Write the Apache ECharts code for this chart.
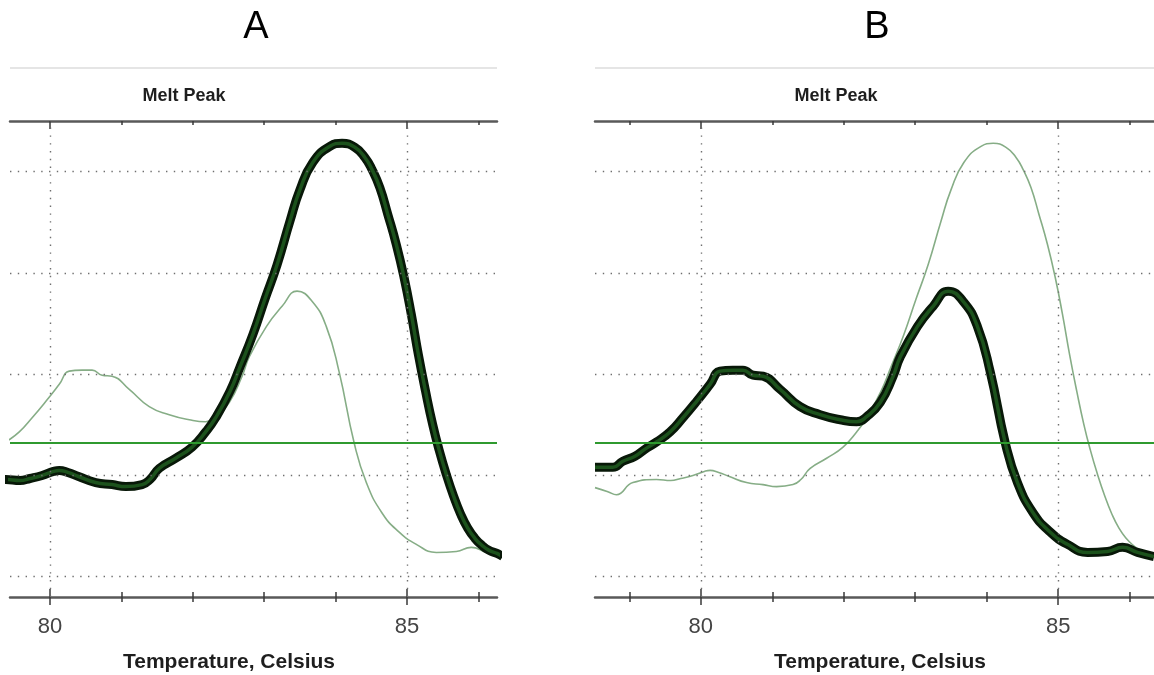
<!DOCTYPE html>
<html>
<head>
<meta charset="utf-8">
<title>Melt Peak</title>
<script src="https://cdn.jsdelivr.net/npm/echarts@6/dist/echarts.min.js"></script>
<style>
	html, body { margin: 0; padding: 0; background: #fff; }
	#main { width: 1154px; height: 675px; }
</style>
</head>
<body>
<div id="main"></div>
<script>
// curve with the low-temperature bump (thin in A, thick in B)
var dimerTemp = [78.52, 78.77, 78.91, 79.08, 79.22, 79.38, 79.57, 79.75, 79.94, 80.13, 80.27, 80.45, 80.59, 80.73, 80.87,
	81.11, 81.39, 81.67, 81.95, 82.18, 82.32, 82.51, 82.69, 82.79, 83.03, 83.25, 83.46, 83.67, 83.87, 84.05,
	84.26, 84.43, 84.65, 84.89, 85.13, 85.41, 85.69, 85.90, 86.11, 86.34];
var dimerPeak = [1.08, 1.08, 1.14, 1.19, 1.26, 1.33, 1.43, 1.57, 1.73, 1.90, 2.03, 2.04, 2.04, 1.99, 1.98,
	1.85, 1.68, 1.60, 1.55, 1.53, 1.58, 1.72, 1.98, 2.17, 2.47, 2.67, 2.82, 2.72, 2.47, 2.02,
	1.32, 0.93, 0.63, 0.44, 0.32, 0.24, 0.25, 0.29, 0.24, 0.20];

// main product curve (thick in A, thin in B)
var productTemp = [78.52, 78.70, 78.82, 79.05, 79.38, 79.58, 79.72, 79.89, 80.05, 80.13, 80.25, 80.40, 80.64, 80.87,
	81.06, 81.29, 81.40, 81.53, 81.76, 81.99, 82.18, 82.32, 82.52, 82.66, 82.84, 83.01, 83.18, 83.36, 83.50,
	83.68, 83.92, 84.09, 84.27, 84.41, 84.51, 84.62, 84.73, 84.85, 84.96, 85.06, 85.16, 85.26, 85.36, 85.45,
	85.55, 85.65, 85.75, 85.85, 85.95, 86.05, 86.15, 86.26, 86.34];
var productPeak = [0.88, 0.84, 0.81, 0.93, 0.96, 0.95, 0.97, 1.00, 1.04, 1.05, 1.03, 0.99, 0.93, 0.91,
	0.89, 0.91, 0.96, 1.07, 1.17, 1.28, 1.43, 1.57, 1.83, 2.07, 2.39, 2.74, 3.08, 3.51, 3.82,
	4.09, 4.25, 4.28, 4.24, 4.14, 4.02, 3.84, 3.58, 3.28, 2.95, 2.59, 2.19, 1.83, 1.50, 1.25,
	1.01, 0.80, 0.62, 0.48, 0.38, 0.31, 0.26, 0.23, 0.20];

var gridLevels = [0, 1, 2, 3, 4];
var majorTemps = [80, 85];
var minorTemps = [79, 80, 81, 82, 83, 84, 85, 86];
var thresholdLevel = 1.32;

var panels = [
	{ name: 'A', left: 10, width: 487, min: 79.44, max: 86.26, thick: 'product', titleX: 256, peakX: 184, axisX: 229 },
	{ name: 'B', left: 595, width: 559, min: 78.52, max: 86.34, thick: 'dimer', titleX: 877, peakX: 836, axisX: 880 }
];

function zip (t, v) {
	return t.map(function (x, i) { return [x, v[i]]; });
}
var curves = {
	dimer: zip(dimerTemp, dimerPeak),
	product: zip(productTemp, productPeak)
};

var font = 'Liberation Sans, Arial, sans-serif';
var dotted = { color: '#6f6f6f', width: 1.4, type: [1.4, 6.4] };

var grids = [], xAxes = [], yAxes = [], series = [], graphics = [];

// one x axis on a grid: line, ticks and labels switched on and off
function xAxisOf (gi, p, opt) {
	return {
		type: 'value', gridIndex: gi, min: p.min, max: p.max,
		position: opt.position,
		axisLine: { show: !!opt.line, onZero: false, lineStyle: { color: '#595959', width: 2.5 } },
		axisTick: { show: true, inside: !!opt.inside, length: opt.len, customValues: opt.ticks,
			lineStyle: { color: '#3a3a3a', width: 1.5 } },
		axisLabel: opt.label ? {
			show: true, customValues: majorTemps, fontSize: 22, color: '#444', margin: 19, fontFamily: font
		} : { show: false },
		splitLine: { show: false }
	};
}

panels.forEach(function (p, gi) {
	grids.push({ left: p.left, top: 121, width: p.width, height: 476 });
	var base = xAxes.length;
	xAxes.push(xAxisOf(gi, p, { position: 'bottom', line: true, label: true, len: 5, ticks: minorTemps }));
	xAxes.push(xAxisOf(gi, p, { position: 'bottom', inside: true, len: 5, ticks: minorTemps }));
	xAxes.push(xAxisOf(gi, p, { position: 'bottom', len: 8, ticks: majorTemps }));
	xAxes.push(xAxisOf(gi, p, { position: 'bottom', inside: true, len: 8, ticks: majorTemps }));
	xAxes.push(xAxisOf(gi, p, { position: 'top', line: true, inside: true, len: 4, ticks: minorTemps }));
	xAxes.push(xAxisOf(gi, p, { position: 'top', inside: true, len: 8, ticks: majorTemps }));
	yAxes.push({ type: 'value', gridIndex: gi, min: -0.2, max: 4.5, show: false });

	var thin = p.thick === 'dimer' ? 'product' : 'dimer';
	var marks = gridLevels.map(function (v) { return { yAxis: v, lineStyle: dotted }; })
		.concat(majorTemps.map(function (t) { return { xAxis: t, lineStyle: dotted }; }))
		.concat([{ yAxis: thresholdLevel, lineStyle: { color: '#2f9a2f', width: 2.2, type: 'solid' } }]);

	series.push({
		type: 'line', xAxisIndex: base, yAxisIndex: gi, data: curves[thin],
		showSymbol: false, smooth: 0.5, z: 2,
		lineStyle: { color: '#86ad86', width: 1.6 },
		markLine: { silent: true, symbol: ['none', 'none'], label: { show: false }, data: marks }
	});
	// thick curve: dark outline with a green core
	series.push({
		type: 'line', xAxisIndex: base, yAxisIndex: gi, data: curves[p.thick],
		showSymbol: false, smooth: 0.5, z: 3,
		lineStyle: { color: '#081808', width: 9, cap: 'butt' }
	});
	series.push({
		type: 'line', xAxisIndex: base, yAxisIndex: gi, data: curves[p.thick],
		showSymbol: false, smooth: 0.5, z: 4,
		lineStyle: { color: '#1c521c', width: 3.5, cap: 'butt' }
	});

	graphics.push(
		{ type: 'line', shape: { x1: p.left, y1: 68, x2: p.left + p.width, y2: 68 }, style: { stroke: '#dcdcdc', lineWidth: 1.5 } },
		{ type: 'text', x: p.titleX, y: 28, style: { text: p.name, fontSize: 38, fontFamily: font, fill: '#000', align: 'center', verticalAlign: 'middle' } },
		{ type: 'text', x: p.peakX, y: 96, style: { text: 'Melt Peak', fontSize: 18, fontWeight: 'bold', fontFamily: font, fill: '#1e1e1e', align: 'center', verticalAlign: 'middle' } },
		{ type: 'text', x: p.axisX, y: 662, style: { text: 'Temperature, Celsius', fontSize: 21, fontWeight: 'bold', fontFamily: font, fill: '#1e1e1e', align: 'center', verticalAlign: 'middle' } }
	);
});

var myChart = echarts.init(document.getElementById('main'));
myChart.setOption({
	animation: false,
	grid: grids,
	xAxis: xAxes,
	yAxis: yAxes,
	series: series,
	graphic: graphics
});
</script>
</body>
</html>
